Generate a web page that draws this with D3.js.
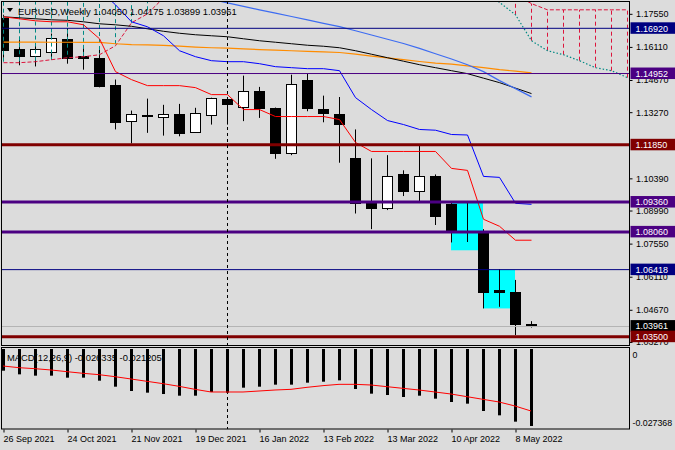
<!DOCTYPE html>
<html>
<head>
<meta charset="utf-8">
<script src="https://cdn.jsdelivr.net/npm/d3@7"></script>
<style>
  body { margin: 0; background: #dcdcdc; }
  svg { display: block; font-family: "Liberation Sans", Arial, sans-serif; }
</style>
</head>
<body>
<div id="chart"></div>
<script>
// EURUSD weekly, 26 Sep 2021 .. 15 May 2022 (34 bars)
var opens  = [1.1736,1.1602,1.1570,1.1591,1.1645,1.1573,1.1563,1.1447,1.1288,1.1316,1.1307,1.1317,1.1240,1.1315,1.1386,1.1353,1.1421,1.1346,1.1150,1.1469,1.1341,1.1321,1.1129,1.0930,1.0912,1.1056,1.0984,1.1048,1.0926,1.0808,1.0808,1.0553,1.0543,1.04050];
var highs  = [1.1751,1.1641,1.1625,1.1669,1.1692,1.1616,1.1609,1.1469,1.1334,1.1386,1.1359,1.1363,1.1346,1.1390,1.1390,1.1486,1.1437,1.1347,1.1490,1.1495,1.1399,1.1393,1.1252,1.1126,1.1140,1.1074,1.1182,1.1056,1.0933,1.0936,1.0818,1.0644,1.0597,1.04175];
var lows   = [1.1564,1.1531,1.1526,1.1555,1.1538,1.1512,1.1435,1.1252,1.1191,1.1237,1.1225,1.1222,1.1237,1.1273,1.1273,1.1288,1.1302,1.1124,1.1140,1.1331,1.1283,1.1107,1.0886,1.0818,1.0901,1.0962,1.0940,1.0836,1.0760,1.0762,1.0473,1.0480,1.0357,1.03899];
var closes = [1.1596,1.1570,1.1602,1.1650,1.1561,1.1565,1.1442,1.1285,1.1320,1.1314,1.1320,1.1235,1.1324,1.1389,1.1363,1.1421,1.1346,1.1150,1.1450,1.1348,1.1324,1.1276,1.0933,1.0910,1.1051,1.0984,1.1051,1.0875,1.0810,1.0802,1.0543,1.0545,1.0405,1.03961];

// ichimoku
var tenkan = [1.17420,1.17333,1.17246,1.17203,1.17203,1.17073,1.16465,1.15033,1.14686,1.14425,1.14425,1.14425,1.14338,1.14034,1.14034,1.13383,1.13383,1.13080,1.13080,1.13080,1.13080,1.12949,1.11951,1.11560,1.11560,1.11560,1.11560,1.11560,1.10823,1.10736,1.08609,1.08305,1.07698,1.07698];
var kijun  = [1.19460,1.19460,1.19460,1.19373,1.19243,1.19026,1.18592,1.17941,1.17203,1.16986,1.16595,1.15944,1.15684,1.15510,1.15467,1.15467,1.15380,1.15250,1.15206,1.15163,1.15163,1.15076,1.13904,1.13383,1.12906,1.12732,1.12517,1.12485,1.12298,1.12277,1.10475,1.10432,1.09304,1.09260];
// cloud is shifted 26 bars forward, so it runs to bar 39 (null = out of view)
var spanA = [1.1960,1.1962,1.1965,1.1965,1.1960,1.1955,1.1950,1.1945,1.1945,1.1940,1.1935,1.1930,
             null,null,null,null,null,null,null,null,null,null,null,null,null,null,null,null,null,null,
             1.18505,1.18049,1.17507,1.16378,1.15944,1.15770,1.15510,1.15206,1.15076,1.14772];
var spanB = [1.15423,1.15423,1.15467,1.15553,1.15640,1.15684,1.15770,1.16161,1.17159,1.17550,1.18244,1.18592,
             null,null,null,null,null,null,null,null,null,null,null,null,null,null,null,null,null,null,
             null,1.18500,1.18375,1.17994,1.17724,1.17724,1.17724,1.17724,1.17724,1.17724];

// moving averages
var maBlack  = [1.17420,1.17376,1.17333,1.17290,1.17268,1.17203,1.17116,1.17072,1.17007,1.16899,1.16790,1.16704,1.16639,1.16595,1.16552,1.16464,1.16378,1.16313,1.16248,1.16183,1.16139,1.16074,1.15944,1.15792,1.15640,1.15488,1.15336,1.15206,1.15076,1.14946,1.14750,1.14555,1.14317,1.14078];
var maOrange = [1.16322,1.16322,1.16317,1.16313,1.16313,1.16309,1.16304,1.16248,1.16213,1.16196,1.16178,1.16148,1.16105,1.16074,1.16057,1.16022,1.15996,1.15966,1.15944,1.15918,1.15892,1.15866,1.15792,1.15705,1.15632,1.15553,1.15475,1.15402,1.15358,1.15284,1.15206,1.15119,1.15054,1.14976];
var maBlue   = [null,null,null,null,null,null,null,null,1.18939,1.18787,1.18635,1.18483,1.18331,1.18179,1.18027,1.17876,1.17724,1.17580,1.17433,1.17290,1.17138,1.16994,1.16812,1.16630,1.16443,1.16257,1.16044,1.15814,1.15584,1.15336,1.15033,1.14642,1.14295,1.13935];

// MACD(12,26,9)
var macdMain   = [-0.00742,-0.00867,-0.00912,-0.00912,-0.00981,-0.00981,-0.01084,-0.01289,-0.01437,-0.01494,-0.01540,-0.01597,-0.01597,-0.01471,-0.01494,-0.01323,-0.01289,-0.01220,-0.01220,-0.01152,-0.01118,-0.01072,-0.01368,-0.01528,-0.01574,-0.01642,-0.01597,-0.01699,-0.01813,-0.01870,-0.02121,-0.02269,-0.02486,-0.026335];
var macdSignal = [-0.00582,-0.00639,-0.00673,-0.00718,-0.00776,-0.00832,-0.00878,-0.00947,-0.01026,-0.01106,-0.01186,-0.01277,-0.01380,-0.01471,-0.01471,-0.01471,-0.01437,-0.01403,-0.01380,-0.01311,-0.01254,-0.01209,-0.01209,-0.01232,-0.01289,-0.01346,-0.01403,-0.01471,-0.01540,-0.01631,-0.01722,-0.01813,-0.01950,-0.021205];

// horizontal levels drawn on the chart
var levelPrices = [1.16920, 1.14952, 1.11850, 1.09360, 1.08060, 1.06418, 1.03500];
var levelColors = ["#000080", "#4b0082", "#800000", "#4b0082", "#4b0082", "#000080", "#800000"];
var levelWidths = [1, 1, 3, 3, 3, 1, 3];

// cyan zones: bar from, bar to, top, bottom
var zoneFrom = [28, 30];
var zoneTo   = [30, 32];
var zoneTop  = [1.0934, 1.0641];
var zoneBot  = [1.0726, 1.0473];

var priceTicks = [1.17550,1.16110,1.14670,1.13270,1.10390,1.08990,1.07550,1.06110,1.04670,1.03270];
var dateBars   = [0, 4, 8, 12, 16, 20, 24, 28, 32];
var dateLabels = ["26 Sep 2021","24 Oct 2021","21 Nov 2021","19 Dec 2021","16 Jan 2022","13 Feb 2022","13 Mar 2022","10 Apr 2022","8 May 2022"];
var yearBar = 14;
var macdMin = -0.027368;

var W = 675, H = 450;
var right = 629, mainTop = 1, mainBot = 345, macdTop = 348, macdBot = 429;
var teal = "#008a84", crimson = "#dc143c";

var svg = d3.select("#chart").append("svg").attr("width", W).attr("height", H);
svg.append("rect").attr("width", W).attr("height", H).attr("fill", "#dcdcdc");

var x = d3.scaleLinear().domain([0, 39]).range([3, 627]);
var y = d3.scaleLinear().domain([1.03138, 1.18108]).range([mainBot, mainTop]);
var ym = d3.scaleLinear().domain([macdMin, 0]).range([macdBot, macdTop + 1]);

var defs = svg.append("defs");
defs.append("clipPath").attr("id", "clipMain").append("rect")
  .attr("x", 2).attr("y", mainTop).attr("width", right - 2).attr("height", mainBot - mainTop);
defs.append("clipPath").attr("id", "clipMacd").append("rect")
  .attr("x", 2).attr("y", macdTop).attr("width", right - 2).attr("height", macdBot - macdTop);

var main = svg.append("g").attr("clip-path", "url(#clipMain)");

// zones
main.selectAll(".zone").data(zoneFrom).enter().append("rect")
  .attr("x", function(d){ return x(d); })
  .attr("width", function(d, i){ return x(zoneTo[i]) - x(d); })
  .attr("y", function(d, i){ return y(zoneTop[i]); })
  .attr("height", function(d, i){ return y(zoneBot[i]) - y(zoneTop[i]); })
  .attr("fill", "#00ffff");

// candles
var idx = d3.range(opens.length);
main.selectAll(".wick").data(idx).enter().append("line")
  .attr("x1", function(i){ return x(i) + 0.5; }).attr("x2", function(i){ return x(i) + 0.5; })
  .attr("y1", function(i){ return y(highs[i]); }).attr("y2", function(i){ return y(lows[i]); })
  .attr("stroke", "#000").attr("stroke-width", 1);
main.selectAll(".body").data(idx).enter().append("rect")
  .attr("x", function(i){ return x(i) - 4.5; })
  .attr("width", 10)
  .attr("y", function(i){ return Math.round(y(Math.max(opens[i], closes[i]))) + 0.5; })
  .attr("height", function(i){ return Math.max(1, Math.round(y(Math.min(opens[i], closes[i])) - y(Math.max(opens[i], closes[i])))); })
  .attr("fill", function(i){ return closes[i] > opens[i] ? "#fff" : "#000"; })
  .attr("stroke", "#000").attr("stroke-width", 1);

// cloud hatching and spans
var cloudIdx = d3.range(spanA.length).filter(function(i){ return spanA[i] != null && spanB[i] != null; });
main.selectAll(".hatch").data(cloudIdx).enter().append("line")
  .attr("x1", function(i){ return x(i) + 0.5; }).attr("x2", function(i){ return x(i) + 0.5; })
  .attr("y1", function(i){ return y(spanA[i]); }).attr("y2", function(i){ return y(spanB[i]); })
  .attr("stroke", function(i){ return spanA[i] > spanB[i] ? teal : crimson; })
  .attr("stroke-width", 1).attr("stroke-dasharray", "4,3");

function lineOf(arr) {
  return d3.line().defined(function(d){ return d != null; })
    .x(function(d, i){ return x(i) + 0.5; }).y(function(d){ return y(d); })(arr);
}
main.append("path").attr("d", lineOf(spanA)).attr("fill", "none")
  .attr("stroke", teal).attr("stroke-width", 1.2).attr("stroke-dasharray", "1.5,2");
main.append("path").attr("d", lineOf(spanB)).attr("fill", "none")
  .attr("stroke", crimson).attr("stroke-width", 1).attr("stroke-dasharray", "4,2");

main.append("path").attr("d", lineOf(maOrange)).attr("fill", "none").attr("stroke", "#ff8c00").attr("stroke-width", 1.2);
main.append("path").attr("d", lineOf(maBlack)).attr("fill", "none").attr("stroke", "#000").attr("stroke-width", 1);
main.append("path").attr("d", lineOf(maBlue)).attr("fill", "none").attr("stroke", "#3d6cf2").attr("stroke-width", 1.2);
main.append("path").attr("d", lineOf(kijun)).attr("fill", "none").attr("stroke", "#0000ff").attr("stroke-width", 1);
main.append("path").attr("d", lineOf(tenkan)).attr("fill", "none").attr("stroke", "#ff0000").attr("stroke-width", 1);

// current price line
var lastClose = closes[closes.length - 1];
main.append("line").attr("x1", 0).attr("x2", right)
  .attr("y1", Math.round(y(lastClose)) + 0.5).attr("y2", Math.round(y(lastClose)) + 0.5)
  .attr("stroke", "#b4b4b4").attr("stroke-width", 1);

// levels
main.selectAll(".lvl").data(levelPrices).enter().append("line")
  .attr("x1", 0).attr("x2", right)
  .attr("y1", function(d){ return y(d); }).attr("y2", function(d){ return y(d); })
  .attr("stroke", function(d, i){ return levelColors[i]; })
  .attr("stroke-width", function(d, i){ return levelWidths[i]; });

// year separator
svg.append("line").attr("x1", x(yearBar) + 0.5).attr("x2", x(yearBar) + 0.5)
  .attr("y1", mainTop).attr("y2", macdBot)
  .attr("stroke", "#000").attr("stroke-width", 1).attr("stroke-dasharray", "3,3");

// title
svg.append("path").attr("d", "M7,8 L13,8 L10,12 Z").attr("fill", "#000");
svg.append("text").attr("x", 18).attr("y", 14.5).attr("font-size", 9.4).attr("fill", "#000")
  .text("EURUSD,Weekly  " + d3.format(".5f")(opens[33]) + " " + d3.format(".5f")(highs[33]) + " " +
        d3.format(".5f")(lows[33]) + " " + d3.format(".5f")(closes[33]));

// MACD panel
var sub = svg.append("g").attr("clip-path", "url(#clipMacd)");
sub.append("text").attr("x", 7).attr("y", 361).attr("font-size", 9.4).attr("fill", "#000")
  .text("MACD(12,26,9) " + macdMain[33].toFixed(6) + " " + macdSignal[33].toFixed(6));
sub.selectAll(".hist").data(macdMain).enter().append("rect")
  .attr("x", function(d, i){ return x(i) - 1; }).attr("width", 3)
  .attr("y", ym(0)).attr("height", function(d){ return ym(d) - ym(0); })
  .attr("fill", "#000");
sub.append("path").attr("d", d3.line().x(function(d, i){ return x(i); }).y(function(d){ return ym(d); })(macdSignal))
  .attr("fill", "none").attr("stroke", "#ff0000").attr("stroke-width", 1);

// panel borders
svg.append("rect").attr("x", 1.5).attr("y", mainTop + 0.5).attr("width", right - 1).attr("height", mainBot - mainTop)
  .attr("fill", "none").attr("stroke", "#000");
svg.append("rect").attr("x", 1.5).attr("y", macdTop - 0.5).attr("width", right - 1).attr("height", macdBot - macdTop + 0.5)
  .attr("fill", "none").attr("stroke", "#000");

// price axis
var pAxis = svg.append("g").attr("transform", "translate(" + (right + 0.5) + ",0)")
  .call(d3.axisRight(y).tickValues(priceTicks).tickSize(3).tickPadding(3.5).tickFormat(d3.format(".5f")));
pAxis.select(".domain").remove();
pAxis.selectAll("text").attr("font-size", 9).attr("font-family", "Liberation Sans, Arial, sans-serif").attr("fill", "#000");
pAxis.selectAll("line").attr("stroke", "#000");

// level and price labels
var tagPrices = levelPrices.slice(0, 6).concat([lastClose, levelPrices[6]]);
var tagColors = levelColors.slice(0, 6).concat(["#000", levelColors[6]]);
var tags = svg.selectAll(".tag").data(tagPrices).enter().append("g")
  .attr("transform", function(d){ return "translate(" + (right + 1.5) + "," + y(d) + ")"; });
tags.append("rect").attr("x", 0).attr("y", -6).attr("width", W - right - 1.5).attr("height", 11.5)
  .attr("fill", function(d, i){ return tagColors[i]; });
tags.append("text").attr("x", 5).attr("y", 3.3).attr("font-size", 9).attr("fill", "#fff")
  .text(function(d){ return d3.format(".5f")(d); });

// macd axis
var mAxis = svg.append("g").attr("transform", "translate(" + (right + 0.5) + ",0)")
  .call(d3.axisRight(ym).tickValues([0, macdMin]).tickSize(0).tickPadding(3)
    .tickFormat(function(d){ return d === 0 ? "0" : d.toFixed(6); }));
mAxis.select(".domain").remove();
mAxis.selectAll("text").attr("font-size", 8.8).attr("font-family", "Liberation Sans, Arial, sans-serif").attr("fill", "#000")
  .attr("dy", function(d){ return d === 0 ? "1em" : "-0.45em"; });

// date axis
var dAxis = svg.append("g").attr("transform", "translate(0," + (macdBot + 0.5) + ")")
  .call(d3.axisBottom(x).tickValues(dateBars).tickSize(3).tickPadding(3)
    .tickFormat(function(d, i){ return dateLabels[i]; }));
dAxis.select(".domain").remove();
dAxis.selectAll(".tick line").attr("transform", "translate(0.5,0)").attr("stroke", "#000");
dAxis.selectAll("text").attr("font-size", 9).attr("font-family", "Liberation Sans, Arial, sans-serif")
  .attr("fill", "#000").attr("text-anchor", "start").attr("x", 0);
</script>
</body>
</html>
